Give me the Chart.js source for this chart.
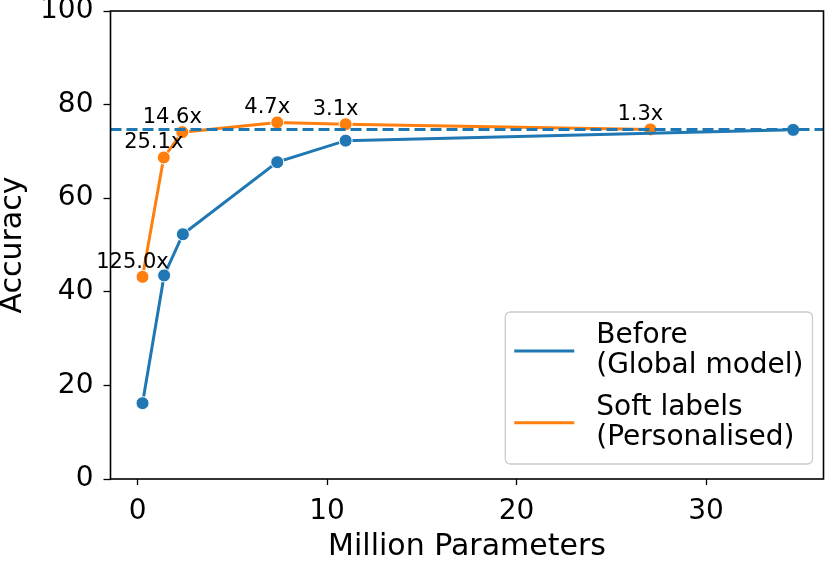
<!DOCTYPE html>
<html>
<head>
<meta charset="utf-8">
<script src="https://cdn.jsdelivr.net/npm/chart.js@4.4.1/dist/chart.umd.min.js"></script>
<style>
  body { margin: 0; background: #fff; }
  #myChart { display: block; }
</style>
</head>
<body>
<canvas id="myChart" width="831" height="561"></canvas>
<script>
// data
const paramsBefore = [0.26, 1.40, 2.39, 7.37, 10.98, 34.6];
const accBefore = [16.2, 43.5, 52.3, 67.7, 72.3, 74.6];
const paramsSoft = [0.26, 1.38, 2.36, 7.37, 10.98, 27.06];
const accSoft = [43.2, 68.7, 74.1, 76.2, 75.8, 74.7];
const speedupLabels = ['125.0x', '25.1x', '14.6x', '4.7x', '3.1x', '1.3x'];
const globalBaseline = 74.7;

const xTicks = [0, 10, 20, 30];
const yTicks = [0, 20, 40, 60, 80, 100];
const xMin = -1.43, xMax = 36.2;

const BLUE = '#1f77b4';
const ORANGE = '#ff7f0e';
const FONT = 'DejaVu Sans';

const toPoints = (xs, ys) => xs.map((x, i) => ({ x: x, y: ys[i] }));

// speed-up labels over the orange points
const labelPlugin = {
    id: 'speedups',
    afterDatasetsDraw(chart) {
        const meta = chart.getDatasetMeta(2);
        const ctx = chart.ctx;
        ctx.save();
        ctx.font = '21px "' + FONT + '"';
        ctx.fillStyle = '#000';
        ctx.textAlign = 'center';
        ctx.textBaseline = 'alphabetic';
        meta.data.forEach((pt, i) => {
            ctx.fillText(speedupLabels[i], pt.x - 10, pt.y - 9);
        });
        ctx.restore();
    }
};

// matplotlib style box round the plot + legend
const framePlugin = {
    id: 'frame',
    afterDraw(chart) {
        const { ctx, chartArea: a } = chart;
        ctx.save();
        ctx.strokeStyle = '#000';
        ctx.lineWidth = 1.6;
        ctx.strokeRect(a.left, a.top, a.right - a.left, a.bottom - a.top);

        // legend
        const entries = [chart.data.datasets[1], chart.data.datasets[2]];
        ctx.font = '28px "' + FONT + '"';
        let maxW = 0;
        entries.forEach(ds => ds.label.split('\n').forEach(t => {
            maxW = Math.max(maxW, ctx.measureText(t).width);
        }));
        const w = 9 + 60 + 22 + maxW + 9;
        const h = 152;
        const bx = a.right - 11 - w;
        const by = a.bottom - 15 - h;
        ctx.beginPath();
        ctx.roundRect(bx, by, w, h, 5);
        ctx.fillStyle = 'rgba(255,255,255,0.8)';
        ctx.fill();
        ctx.strokeStyle = '#cccccc';
        ctx.lineWidth = 1.3;
        ctx.stroke();

        const lineCenters = [[24, 54], [96, 125.5]];
        entries.forEach((ds, i) => {
            const [c1, c2] = lineCenters[i];
            const mid = by + (c1 + c2) / 2;
            ctx.strokeStyle = ds.borderColor;
            ctx.lineWidth = 3;
            ctx.beginPath();
            ctx.moveTo(bx + 9, mid);
            ctx.lineTo(bx + 69, mid);
            ctx.stroke();
            ctx.fillStyle = '#000';
            ctx.textAlign = 'left';
            ctx.textBaseline = 'middle';
            const lines = ds.label.split('\n');
            ctx.fillText(lines[0], bx + 91, by + c1);
            ctx.fillText(lines[1], bx + 91, by + c2);
        });
        ctx.restore();
    }
};

const data = {
    datasets: [{
        label: 'global',
        data: [{ x: xMin, y: globalBaseline }, { x: xMax, y: globalBaseline }],
        borderColor: BLUE,
        borderWidth: 3,
        borderDash: [11, 5],
        pointRadius: 0,
        showLine: true,
        order: 0
    }, {
        label: 'Before\n(Global model)',
        data: toPoints(paramsBefore, accBefore),
        borderColor: BLUE,
        backgroundColor: BLUE,
        borderWidth: 3,
        pointRadius: 6.5,
        pointBorderColor: '#fff',
        pointBorderWidth: 1,
        pointBackgroundColor: BLUE,
        showLine: true,
        order: 1
    }, {
        label: 'Soft labels\n(Personalised)',
        data: toPoints(paramsSoft, accSoft),
        borderColor: ORANGE,
        backgroundColor: ORANGE,
        borderWidth: 3,
        pointRadius: 6.5,
        pointBorderColor: '#fff',
        pointBorderWidth: 1,
        pointBackgroundColor: ORANGE,
        showLine: true,
        order: 2
    }]
};

const tickFont = { family: FONT, size: 28 };
const titleFont = { family: FONT, size: 30 };

const config = {
    type: 'scatter',
    data,
    options: {
        responsive: false,
        animation: false,
        devicePixelRatio: 1,
        layout: { padding: { top: 11, right: 3, left: 0, bottom: 0 } },
        plugins: {
            legend: { display: false },
            tooltip: { enabled: false }
        },
        scales: {
            x: {
                type: 'linear',
                min: xMin,
                max: xMax,
                afterBuildTicks: s => { s.ticks = xTicks.map(v => ({ value: v })); },
                afterFit: s => { s.height = 82; s.paddingLeft = 0; s.paddingRight = 0; },
                border: { display: false },
                grid: { drawOnChartArea: false, drawTicks: true, tickLength: 6, tickColor: '#000', tickWidth: 1.3 },
                ticks: { font: tickFont, color: '#000', padding: 10, maxRotation: 0 },
                title: { display: true, text: 'Million Parameters', font: titleFont, color: '#000', padding: { top: 0, bottom: -4 } }
            },
            y: {
                type: 'linear',
                min: 0,
                max: 100,
                afterBuildTicks: s => { s.ticks = yTicks.map(v => ({ value: v })); },
                afterFit: s => { s.width = 110.5; s.paddingTop = 0; s.paddingBottom = 0; },
                border: { display: false },
                grid: { drawOnChartArea: false, drawTicks: true, tickLength: 7, tickColor: '#000', tickWidth: 1.3 },
                ticks: { font: tickFont, color: '#000', padding: 10 },
                title: { display: true, text: 'Accuracy', font: titleFont, color: '#000', padding: { top: -5, bottom: 0 } }
            }
        }
    },
    plugins: [labelPlugin, framePlugin]
};

const myChart = new Chart(document.getElementById('myChart'), config);
</script>
</body>
</html>
